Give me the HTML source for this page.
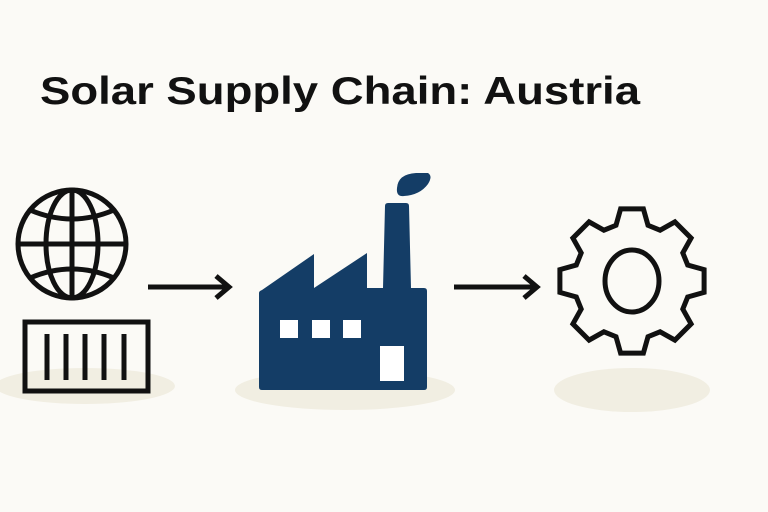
<!DOCTYPE html>
<html><head><meta charset="utf-8"><style>
html,body{margin:0;padding:0;background:#fbfaf6;}
svg{display:block}
</style></head><body>
<svg width="768" height="512" viewBox="0 0 768 512" xmlns="http://www.w3.org/2000/svg">
<rect width="768" height="512" fill="#fbfaf6"/>
<text x="40" y="104" font-family="Liberation Sans, Arial, sans-serif" font-weight="bold" font-size="39" fill="#111" textLength="600" lengthAdjust="spacingAndGlyphs">Solar Supply Chain: Austria</text>
<ellipse cx="85" cy="386" rx="90" ry="18" fill="#f1eee2"/>
<ellipse cx="345" cy="390" rx="110" ry="20" fill="#f1eee2"/>
<ellipse cx="632" cy="390" rx="78" ry="22" fill="#f1eee2"/>
<g fill="none" stroke="#111" stroke-width="5">
<circle cx="72" cy="244" r="54"/>
<ellipse cx="72" cy="244" rx="26" ry="54"/>
<line x1="72" y1="190" x2="72" y2="298"/>
<line x1="18" y1="244" x2="126" y2="244"/>
<path d="M30 210 Q72 228 114 210"/>
<path d="M30 278 Q72 260 114 278"/>
<rect x="25" y="322" width="123" height="69"/>
<line x1="47" y1="334" x2="47" y2="380"/>
<line x1="66" y1="334" x2="66" y2="380"/>
<line x1="85" y1="334" x2="85" y2="380"/>
<line x1="104" y1="334" x2="104" y2="380"/>
<line x1="124" y1="334" x2="124" y2="380"/>
<line x1="148" y1="287" x2="228" y2="287"/>
<path d="M216 276 L229 287 L216 298"/>
<line x1="454" y1="287" x2="536" y2="287"/>
<path d="M524 276 L537 287 L524 298"/>
<polygon points="632,209.9 655.5,205.3 612.1,-0" transform="" style="display:none"/>
<g transform="translate(632,281) scale(1,-1)" stroke-linejoin="miter">
<polygon points="55.7,-16 72.1,-11.4 72.1,11.4 55.7,16 50.8,28.1 59.1,42.9 42.9,59.1 28.1,50.8 16,55.7 11.4,72.1 -11.4,72.1 -16,55.7 -28.1,50.8 -42.9,59.1 -59.1,42.9 -50.8,28.1 -55.7,16 -72.1,11.4 -72.1,-11.4 -55.7,-16 -50.8,-28.1 -59.1,-42.9 -42.9,-59.1 -28.1,-50.8 -16,-55.7 -11.4,-72.1 11.4,-72.1 16,-55.7 28.1,-50.8 42.9,-59.1 59.1,-42.9 50.8,-28.1"/>
<ellipse cx="0" cy="0" rx="27" ry="31"/>
</g>
</g>
<g fill="#143d66">
<path d="M262 290 L314 254 L314 288 L367 253 L367 288 L383 288 L385 206 Q385 203 388 203 L406 203 Q409 203 409 206 L411 288 L424 288 Q427 288 427 291 L427 387 Q427 390 424 390 L262 390 Q259 390 259 387 L259 293 Q259 291 262 290 Z"/>
<path d="M397 188 Q398 174 416 173 L428 173 Q433 176 428 184 Q420 195 404 196 Q396 197 397 188 Z"/>
</g>
<g fill="#fff">
<rect x="280" y="320" width="18" height="18"/>
<rect x="312" y="320" width="18" height="18"/>
<rect x="343" y="320" width="18" height="18"/>
<rect x="380" y="346" width="24" height="35"/>
</g>
</svg>
</body></html>
